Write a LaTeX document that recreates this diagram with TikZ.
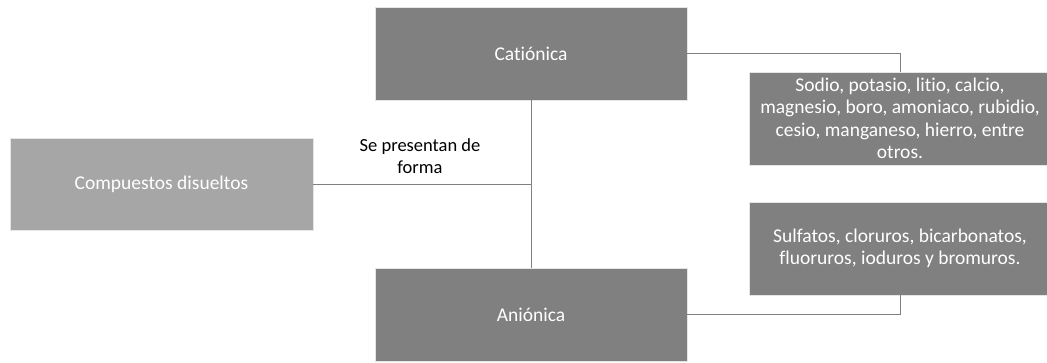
\documentclass[tikz,border=0pt]{standalone}
\usepackage{fontspec}
\setmainfont{Carlito}[Ligatures=NoCommon]
\usetikzlibrary{positioning}

\begin{document}
\begin{tikzpicture}[x=1pt, y=-1pt]
    \tikzstyle{mainbox} = [rectangle, minimum width=303pt, minimum height=92pt, text centered, fill=black!35, draw=black!10, line width=0.8pt, text=white, font=\fontsize{19.5}{22.4}\selectfont]
    \tikzstyle{formbox} = [rectangle, minimum width=312pt, minimum height=93pt, text centered, fill=black!50, draw=black!10, line width=0.8pt, text=white, font=\fontsize{19.5}{22.4}\selectfont]
    \tikzstyle{listbox} = [formbox, minimum width=302pt, align=center, inner sep=2pt]
    \tikzstyle{link} = [draw=black!50, line width=0.9pt]

    \useasboundingbox (0,0) rectangle (1047,362);

    \node (comp) [mainbox] at (161.5,184) {Compuestos disueltos};
    \node (cation) [formbox] at (531,53.5) {Catiónica};
    \node (anion) [formbox] at (531,314.5) {Aniónica};

    \node (catlist) [listbox] at (900,118.5) {Sodio, potasio, litio, calcio,\\magnesio, boro, amoniaco, rubidio,\\cesio, manganeso, hierro, entre\\otros.};
    \node (anlist) [listbox] at (900,248.5) {Sulfatos, cloruros, bicarbonatos,\\fluoruros, ioduros y bromuros.};

    \draw [link] (comp.east) -- node[above, align=center, pos=0.49, font=\fontsize{18.5}{21.5}\selectfont, yshift=7pt] {Se presentan de\\forma} (comp.east -| cation.south);
    \draw [link] (cation.south) -- (anion.north);
    \draw [link] (cation.east) -| (catlist.north);
    \draw [link] (anion.east) -| (anlist.south);
\end{tikzpicture}
\end{document}
